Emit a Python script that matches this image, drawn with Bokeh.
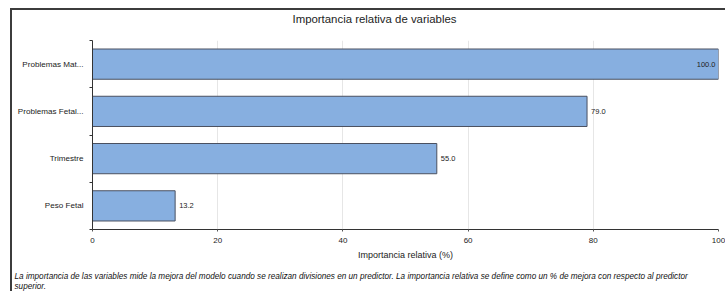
from bokeh.plotting import figure
from bokeh.models import ColumnDataSource, FixedTicker, Title, Range1d
from bokeh.embed import file_html
from bokeh.resources import INLINE

categories = ["Problemas Mat...", "Problemas Fetal...", "Trimestre", "Peso Fetal"]
importance = [100.0, 79.0, 55.0, 13.2]
x_ticks = [0, 20, 40, 60, 80, 100]

n = len(categories)
ypos = [n - i - 0.5 for i in range(n)]
labels = [f"{v:.1f}" for v in importance]
inside = [v >= 95 for v in importance]
src = ColumnDataSource(dict(
    y=ypos, v=importance, lab=labels,
    align=["right" if f else "left" for f in inside],
    xoff=[-3 if f else 4 for f in inside],
))

FONT = "Liberation Sans"

p = figure(width=715, height=283, output_backend="svg", toolbar_location=None,
           title=None,
           x_range=Range1d(0, 100), y_range=Range1d(0, n),
           min_border_left=80, min_border_right=9, min_border_top=30, min_border_bottom=63)
p.outline_line_color = None
p.background_fill_color = "white"
p.border_fill_color = "white"

p.hbar(y="y", right="v", left=0, height=0.64, source=src,
       fill_color="#87AFE0", line_color="#4a5060", line_width=1)
p.text(x="v", y="y", text="lab", source=src, text_align="align", x_offset="xoff",
       text_baseline="middle", text_font_size="7.5px", text_color="#222222",
       text_font={"value": FONT})

# grid
p.ygrid.grid_line_color = None
p.xgrid.grid_line_color = "#e6e6e6"
p.xgrid.ticker = FixedTicker(ticks=x_ticks[1:])

# x axis
p.xaxis.ticker = FixedTicker(ticks=x_ticks)
p.xaxis.axis_label = "Importancia relativa (%)"
p.xaxis.axis_label_text_font = FONT
p.xaxis.axis_label_text_font_style = "normal"
p.xaxis.axis_label_text_font_size = "9px"
p.xaxis.axis_label_text_color = "#222222"
p.xaxis.axis_label_standoff = 4
p.xaxis.major_label_text_font = FONT
p.xaxis.major_label_text_font_size = "8px"
p.xaxis.major_label_text_color = "#222222"
p.xaxis.major_label_standoff = 6
p.xaxis.major_tick_out = 2
p.xaxis.major_tick_in = 0
p.xaxis.minor_tick_out = 0
p.xaxis.axis_line_color = "#333333"
p.xaxis.major_tick_line_color = "#555555"

# y axis
p.yaxis.ticker = FixedTicker(ticks=ypos, minor_ticks=list(range(n + 1)))
p.yaxis.major_label_overrides = {y: c for y, c in zip(ypos, categories)}
p.yaxis.major_label_text_font = FONT
p.yaxis.major_label_text_font_size = "8.1px"
p.yaxis.major_label_text_color = "#222222"
p.yaxis.major_tick_out = 0
p.yaxis.major_tick_in = 0
p.yaxis.minor_tick_out = 3
p.yaxis.minor_tick_in = 0
p.yaxis.major_label_standoff = 6
p.yaxis.axis_line_color = "#333333"
p.yaxis.minor_tick_line_color = "#333333"

# spacer between frame and title, then the title
p.add_layout(Title(text=" ", text_font_size="1px", standoff=13), "above")
p.add_layout(Title(text="Importancia relativa de variables", align="left",
                   text_font=FONT, text_font_size="11.4px", text_font_style="normal",
                   text_color="#222222", offset=200, standoff=0), "above")

# spacer between axis and footnote, then the footnote
note = ("La importancia de las variables mide la mejora del modelo cuando se realizan "
        "divisiones en un predictor. La importancia relativa se define como un % de mejora "
        "con respecto al predictor\nsuperior.")
p.add_layout(Title(text=" ", text_font_size="1px", standoff=2), "below")
p.add_layout(Title(text=note, align="left", offset=-78, text_font=FONT,
                   text_font_size="8.2px", text_font_style="italic",
                   text_line_height=1.2,
                   text_color="#111111", standoff=4), "below")

p.styles = {"margin-left": "10px", "margin-top": "8px",
            "border-left": "2px solid #3c3c3c", "border-top": "2px solid #3c3c3c"}

open("out.html", "w").write(file_html(p, INLINE))
